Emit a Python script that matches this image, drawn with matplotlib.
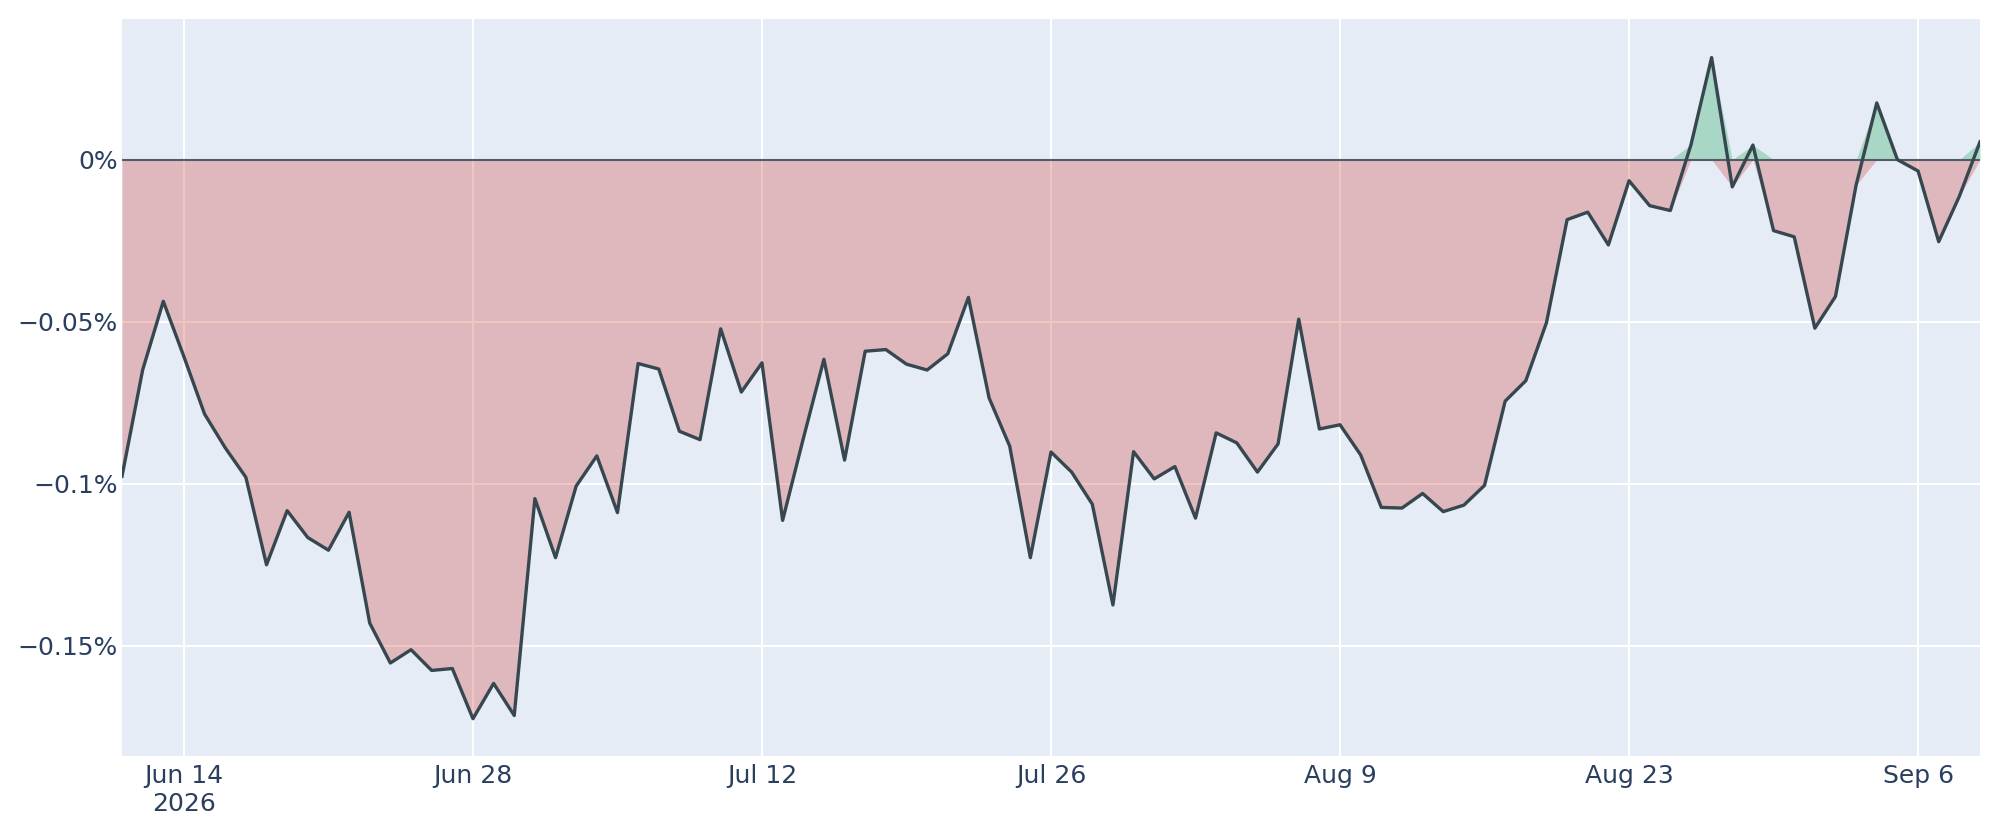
import numpy as np
import pandas as pd
import matplotlib
matplotlib.use("Agg")
import matplotlib.pyplot as plt

# serie diaria, en %
inicio = "2026-06-11"
valores = [
    -0.0977, -0.0649, -0.0437, -0.0608, -0.0785, -0.0889, -0.0980, -0.1250, -0.1083, -0.1166,
    -0.1205, -0.1088, -0.1430, -0.1553, -0.1512, -0.1576, -0.1570, -0.1725, -0.1616, -0.1715,
    -0.1046, -0.1228, -0.1007, -0.0914, -0.1089, -0.0629, -0.0646, -0.0838, -0.0864, -0.0522,
    -0.0717, -0.0627, -0.1113, -0.0861, -0.0616, -0.0927, -0.0591, -0.0586, -0.0631, -0.0649,
    -0.0599, -0.0425, -0.0735, -0.0884, -0.1228, -0.0902, -0.0964, -0.1063, -0.1374, -0.0901,
    -0.0985, -0.0947, -0.1106, -0.0843, -0.0874, -0.0964, -0.0877, -0.0492, -0.0831, -0.0818,
    -0.0911, -0.1073, -0.1075, -0.1030, -0.1086, -0.1066, -0.1005, -0.0745, -0.0682, -0.0503,
    -0.0185, -0.0162, -0.0263, -0.0065, -0.0142, -0.0157, 0.0046, 0.0315, -0.0084, 0.0045,
    -0.0219, -0.0238, -0.0520, -0.0422, -0.0078, 0.0175, 0.0000, -0.0035, -0.0253, -0.0113,
    0.0055,
]
ticks_x = ["2026-06-14", "2026-06-28", "2026-07-12", "2026-07-26", "2026-08-09", "2026-08-23", "2026-09-06"]
etiquetas_x = ["Jun 14\n2026", "Jun 28", "Jul 12", "Jul 26", "Aug 9", "Aug 23", "Sep 6"]
ticks_y = [0, -0.05, -0.1, -0.15]
etiquetas_y = ["0%", "\u22120.05%", "\u22120.1%", "\u22120.15%"]

fechas = pd.date_range(inicio, periods=len(valores), freq="D")
v = np.array(valores)
pos = np.clip(v, 0, None)
neg = np.clip(v, None, 0)

TXT = "#2a3f5f"
plt.rcParams["font.family"] = ["DejaVu Sans"]

fig = plt.figure(figsize=(20, 8.4), dpi=100)
ax = fig.add_axes([0.061, 0.1, 0.929, 0.877])
ax.set_facecolor("#E5ECF6")
for s in ax.spines.values():
    s.set_visible(False)
ax.set_axisbelow(True)
ax.grid(True, color="white", linewidth=1.45)

ax.fill_between(fechas, 0, neg, color="#d4403a", alpha=0.3, linewidth=0)
ax.fill_between(fechas, 0, pos, color="#1fa955", alpha=0.3, linewidth=0)
ax.axhline(0, color="#505c68", linewidth=1.5, zorder=3)
ax.plot(fechas, v, color="#37474f", linewidth=2.4, zorder=4)

ax.set_xlim(fechas[0], fechas[-1])
ax.set_ylim(-0.184, 0.0433)
ax.set_xticks(pd.to_datetime(ticks_x))
ax.set_xticklabels(etiquetas_x, linespacing=1.2)
ax.set_yticks(ticks_y)
ax.set_yticklabels(etiquetas_y)
ax.tick_params(axis="both", length=0, labelsize=18, colors=TXT)
ax.tick_params(axis="x", pad=6)
ax.tick_params(axis="y", pad=3)

fig.savefig("out.png", dpi=100)
